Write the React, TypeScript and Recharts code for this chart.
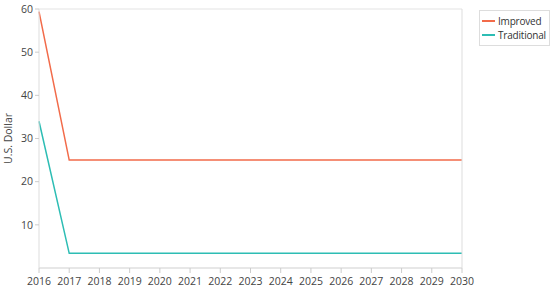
import { LineChart, Line, XAxis, YAxis, CartesianGrid } from "recharts"

const years = [2016, 2017, 2018, 2019, 2020, 2021, 2022, 2023, 2024, 2025, 2026, 2027, 2028, 2029, 2030]
const improved = [59.4, 25, 25, 25, 25, 25, 25, 25, 25, 25, 25, 25, 25, 25, 25]
const traditional = [34, 3.4, 3.4, 3.4, 3.4, 3.4, 3.4, 3.4, 3.4, 3.4, 3.4, 3.4, 3.4, 3.4, 3.4]
const yTicks = [10, 20, 30, 40, 50, 60]

const series = [
  { key: "improved", name: "Improved", color: "#f26b4a" },
  { key: "traditional", name: "Traditional", color: "#2dbdb4" },
]

const data = years.map((year, i) => ({ year, improved: improved[i], traditional: traditional[i] }))

const font = "'Open Sans', 'Noto Sans', sans-serif"
const tickStyle = { fontSize: 10.5, fill: "#444", fontFamily: font }

function LegendBox() {
  return (
    <div
      style={{
        position: "absolute",
        left: 479,
        top: 10,
        whiteSpace: "nowrap",
        border: "1px solid #ddd",
        padding: "3px 3px 3px 2px",
        background: "#fff",
        fontFamily: font,
        fontSize: 10,
        letterSpacing: -0.2,
        color: "#333",
      }}
    >
      {series.map((s) => (
        <div key={s.key} style={{ display: "flex", alignItems: "center", height: 14 }}>
          <span style={{ display: "inline-block", width: 13, height: 2, background: s.color, marginRight: 3 }} />
          {s.name}
        </div>
      ))}
    </div>
  )
}

export default function App() {
  return (
    <div style={{ position: "absolute", left: 0, top: 0, width: 550, height: 288, background: "#fff" }}>
      <LineChart width={550} height={288} data={data} margin={{ top: 9, right: 87, bottom: 0, left: 0 }}>
        <CartesianGrid vertical={false} stroke="#e3e3e3" />
        <XAxis
          dataKey="year"
          type="number"
          domain={[2016, 2030]}
          ticks={years}
          tick={tickStyle}
          tickSize={5}
          tickMargin={5}
          tickLine={{ stroke: "#ccc" }}
          axisLine={{ stroke: "#ddd" }}
          height={20}
          interval={0}
        />
        <YAxis
          yAxisId="left"
          domain={[0, 60]}
          ticks={yTicks}
          tick={tickStyle}
          tickSize={4}
          tickLine={{ stroke: "#ccc" }}
          axisLine={{ stroke: "#ddd" }}
          width={39}
          label={{ value: "U.S. Dollar", angle: -90, position: "insideLeft", offset: 8, style: { fontSize: 10.5, fill: "#444", fontFamily: font, textAnchor: "middle" } }}
        />
        <YAxis yAxisId="right" orientation="right" domain={[0, 60]} tick={false} tickLine={false} axisLine={{ stroke: "#ddd" }} width={1} />
        {series.map((s) => (
          <Line
            key={s.key}
            yAxisId="left"
            dataKey={s.key}
            name={s.name}
            stroke={s.color}
            strokeWidth={1.5}
            dot={false}
            isAnimationActive={false}
          />
        ))}
      </LineChart>
      <LegendBox />
    </div>
  )
}
